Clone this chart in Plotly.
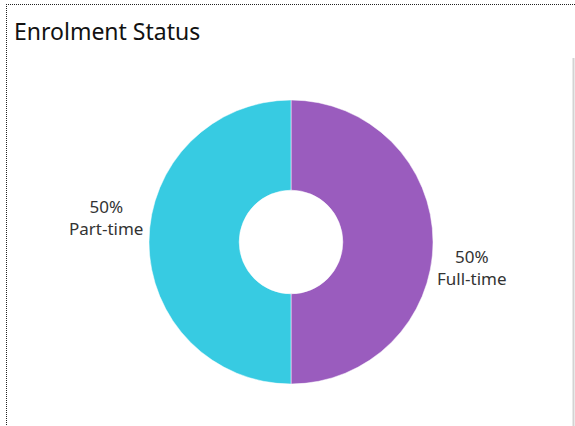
import plotly.graph_objects as go

W, H = 575, 426

# data
statuses = ["Full-time", "Part-time"]
shares = [50, 50]
colors = ["#9A5CBE", "#37CBE2"]

fig = go.Figure()

fig.add_trace(go.Pie(
    labels=statuses,
    values=shares,
    hole=0.365,
    sort=False,
    direction="clockwise",
    rotation=0,
    marker=dict(colors=colors, line=dict(color="white", width=0.5)),
    textinfo="none",
    hoverinfo="label+percent",
    showlegend=False,
    domain=dict(x=[149 / W, 433 / W], y=[1 - 384 / H, 1 - 100 / H]),
))

# slice labels placed beside the donut (Tableau style)
total = sum(shares)
label_pos = {"Full-time": (472, 267), "Part-time": (106, 218)}
for name, val in zip(statuses, shares):
    px_, py_ = label_pos[name]
    fig.add_annotation(
        x=px_ / W, y=1 - py_ / H, xref="paper", yref="paper",
        xanchor="center", yanchor="middle",
        text=f"{round(val / total * 100)}%<br>{name}",
        showarrow=False, align="center",
        font=dict(family="Noto Sans, Open Sans, sans-serif", size=17, color="#333333"),
    )

# title
fig.add_annotation(
    x=12 / W, y=1 - 31 / H, xref="paper", yref="paper",
    xanchor="left", yanchor="middle",
    text="Enrolment Status", showarrow=False,
    font=dict(family="Noto Sans, Open Sans, sans-serif", size=23, color="#111111"),
)

# dotted worksheet border + right edge line
fig.add_shape(type="line", xref="paper", yref="paper",
              x0=6 / W, x1=1, y0=1 - 4.5 / H, y1=1 - 4.5 / H,
              line=dict(color="#222222", width=1, dash="1px,1px"))
fig.add_shape(type="line", xref="paper", yref="paper",
              x0=6.5 / W, x1=6.5 / W, y0=1 - 4 / H, y1=0,
              line=dict(color="#222222", width=1, dash="1px,1px"))
fig.add_shape(type="line", xref="paper", yref="paper",
              x0=573.5 / W, x1=573.5 / W, y0=1 - 58 / H, y1=0,
              line=dict(color="#d3d3d3", width=2))

fig.update_layout(
    width=W, height=H,
    margin=dict(l=0, r=0, t=0, b=0),
    paper_bgcolor="white",
    plot_bgcolor="white",
)

fig.write_html("out.html",
               config={"displayModeBar": False},
               post_script="document.body.style.margin='0';document.body.style.overflow='hidden';")
